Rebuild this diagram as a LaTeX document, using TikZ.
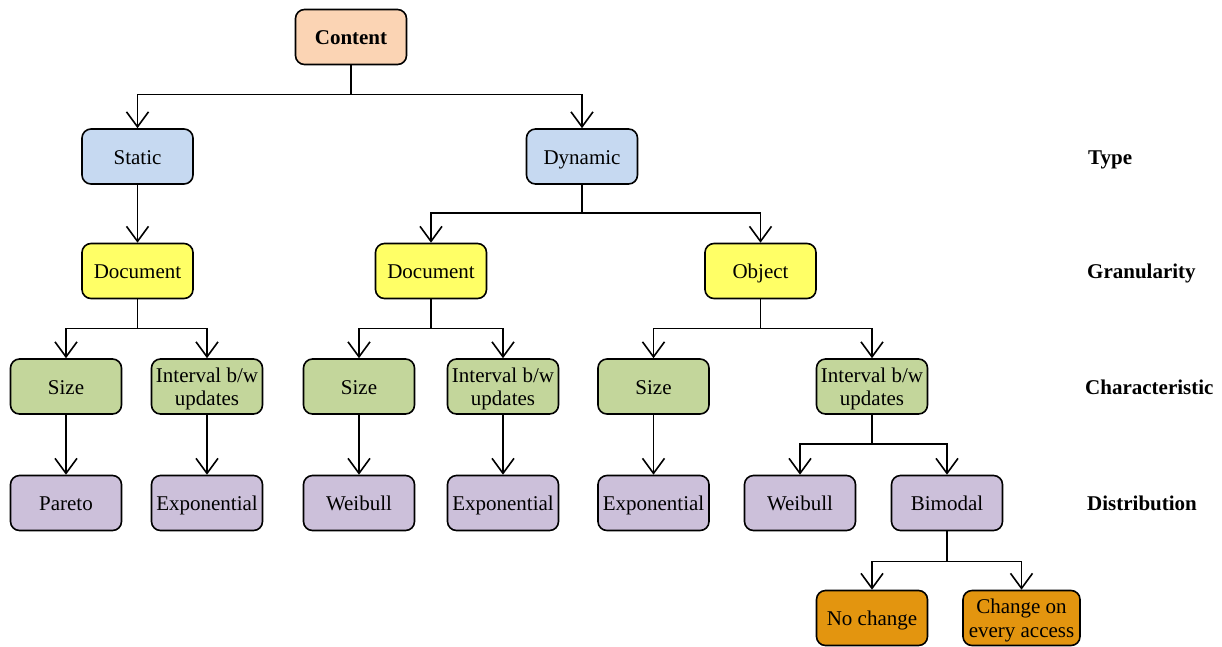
\documentclass[tikz,border=0pt]{standalone}
\usepackage{fontspec}
\setmainfont{Liberation Serif}
\usetikzlibrary{arrows.meta}
\definecolor{cpeach}{HTML}{FBD4B4}
\definecolor{cblue}{HTML}{C6D9F1}
\definecolor{cyellow}{HTML}{FFFF66}
\definecolor{cgreen}{HTML}{C3D69B}
\definecolor{cpurple}{HTML}{CCC0DA}
\definecolor{corange}{HTML}{E3950F}
\tikzset{
  box/.style={draw=black, line width=1.6pt, rounded corners=9pt,
    minimum width=111pt, minimum height=55pt, inner sep=1pt, align=center,
    font=\fontsize{21}{23.5}\selectfont},
  one/.style={box, text height=15.5pt, text depth=0.5pt},
  two/.style={box, text depth=-1pt},
  arr/.style={draw=black, line width=1.6pt, -{Straight Barb[length=15pt,width=22pt,line width=1.6pt]}},
  lvl/.style={anchor=west, font=\fontsize{21}{23}\selectfont\bfseries, inner sep=0pt,
    text height=15.5pt, text depth=0.5pt}
}
\begin{document}
\begin{tikzpicture}[x=1pt, y=-1pt]
\useasboundingbox (0,0) rectangle (1222,646);

% level 0
\node[one, fill=cpeach, font=\fontsize{21}{23}\selectfont\bfseries] (content) at (351,37) {Content};
% type
\node[one, fill=cblue] (static) at (137.5,156.5) {Static};
\node[one, fill=cblue] (dynamic) at (582,156.5) {Dynamic};
% granularity
\node[one, fill=cyellow] (docA) at (137.5,271) {Document};
\node[one, fill=cyellow] (docB) at (431,271) {Document};
\node[one, fill=cyellow] (object) at (760.5,271) {Object};
% characteristic
\node[one, fill=cgreen] (sizeA) at (66,386.5) {Size};
\node[two, fill=cgreen] (intA) at (207,386.5) {Interval b/w\\updates};
\node[one, fill=cgreen] (sizeB) at (359,386.5) {Size};
\node[two, fill=cgreen] (intB) at (503,386.5) {Interval b/w\\updates};
\node[one, fill=cgreen] (sizeC) at (653.5,386.5) {Size};
\node[two, fill=cgreen] (intC) at (872,386.5) {Interval b/w\\updates};
% distribution
\node[one, fill=cpurple] (pareto) at (66,503) {Pareto};
\node[one, fill=cpurple] (expA) at (207,503) {Exponential};
\node[one, fill=cpurple] (weibA) at (359,503) {Weibull};
\node[one, fill=cpurple] (expB) at (503,503) {Exponential};
\node[one, fill=cpurple] (expC) at (653.5,503) {Exponential};
\node[one, fill=cpurple] (weibB) at (800,503) {Weibull};
\node[one, fill=cpurple] (bimodal) at (947,503) {Bimodal};
% bimodal cases
\node[one, fill=corange] (nochange) at (872,618) {No change};
\node[two, fill=corange, minimum width=117pt] (everyacc) at (1021.5,618) {Change on\\every access};

% level labels
\node[lvl] (lType) at (1088,157) {Type};
\node[lvl] (lGran) at (1087,271) {Granularity};
\node[lvl] (lChar) at (1085,387) {Characteristic};
\node[lvl] (lDist) at (1087,503) {Distribution};

% connectors
\draw[arr] (content.south) -- ++(0,29) -| (static.north);
\draw[arr] (content.south) -- ++(0,29) -| (dynamic.north);
\draw[arr] (static.south) -- (docA.north);
\draw[arr] (dynamic.south) -- ++(0,28) -| (docB.north);
\draw[arr] (dynamic.south) -- ++(0,28) -| (object.north);
\draw[arr] (docA.south) -- ++(0,29) -| (sizeA.north);
\draw[arr] (docA.south) -- ++(0,29) -| (intA.north);
\draw[arr] (docB.south) -- ++(0,29) -| (sizeB.north);
\draw[arr] (docB.south) -- ++(0,29) -| (intB.north);
\draw[arr] (object.south) -- ++(0,29) -| (sizeC.north);
\draw[arr] (object.south) -- ++(0,29) -| (intC.north);
\draw[arr] (sizeA.south) -- (pareto.north);
\draw[arr] (intA.south) -- (expA.north);
\draw[arr] (sizeB.south) -- (weibA.north);
\draw[arr] (intB.south) -- (expB.north);
\draw[arr] (sizeC.south) -- (expC.north);
\draw[arr] (intC.south) -- ++(0,29) -| (weibB.north);
\draw[arr] (intC.south) -- ++(0,29) -| (bimodal.north);
\draw[arr] (bimodal.south) -- ++(0,30) -| (nochange.north);
\draw[arr] (bimodal.south) -- ++(0,30) -| (everyacc.north);
\end{tikzpicture}
\end{document}
